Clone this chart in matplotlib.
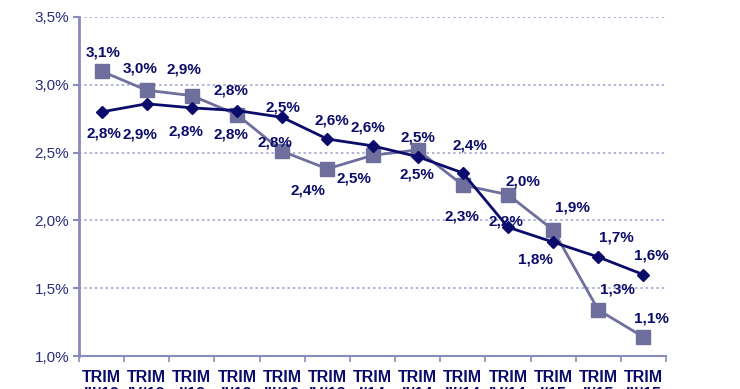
import numpy as np
import matplotlib.pyplot as plt
from matplotlib.ticker import FixedLocator, FuncFormatter

plt.rcParams['font.family'] = ['Liberation Sans', 'DejaVu Sans']

# Quarter labels (second line is cut off in the reference)
quarters = ['TRIM\nIII/12', 'TRIM\nIV/12', 'TRIM\nI/13', 'TRIM\nII/13', 'TRIM\nIII/13',
            'TRIM\nIV/13', 'TRIM\nI/14', 'TRIM\nII/14', 'TRIM\nIII/14', 'TRIM\nIV/14',
            'TRIM\nI/15', 'TRIM\nII/15', 'TRIM\nIII/15']

# Series values (%)
diamond_vals = [2.80, 2.86, 2.83, 2.81, 2.76, 2.60, 2.55, 2.47, 2.35, 1.95, 1.84, 1.73, 1.60]
square_vals = [3.10, 2.96, 2.92, 2.78, 2.51, 2.38, 2.48, 2.52, 2.26, 2.19, 1.93, 1.34, 1.14]

# Data labels as printed on the chart
diamond_labels = ['2,8%', '2,9%', '2,8%', '2,8%', '2,5%', '2,6%', '2,6%',
                  '2,5%', '2,4%', '2,2%', '1,8%', '1,7%', '1,6%']
square_labels = ['3,1%', '3,0%', '2,9%', '2,8%', '2,8%', '2,4%', '2,5%',
                 '2,5%', '2,3%', '2,0%', '1,9%', '1,3%', '1,1%']

# label offsets in pixels (dx, dy up positive)
diamond_off = [(2, -22), (-7, -31), (-6, -24), (-6, -24), (1, 10), (5, 19), (-5, 18),
               (-1, -18), (7, 27), (-2, 6), (-18, -17), (18, 20), (8, 19)]
square_off = [(2, 19), (-7, 22), (-8, 26), (-6, 24), (-7, 9), (-19, -22), (-19, -23),
              (0, 12), (-1, -31), (15, 13), (19, 22), (19, 20), (8, 19)]

navy = '#0b0b6b'
grey_purple = '#6f6f9e'
axis_col = '#8a8abb'
text_col = '#2b2b7a'

fig = plt.figure(figsize=(7.4, 3.89), dpi=100)
ax = fig.add_axes([79 / 740, 33 / 389, 587 / 740, 339 / 389])

x = np.arange(len(quarters))

ax.plot(x, square_vals, color=grey_purple, lw=2, marker='s', markersize=9.5,
        markerfacecolor=grey_purple, markeredgecolor=grey_purple, zorder=3)
ax.plot(x, diamond_vals, color=navy, lw=2, marker='D', markersize=6.5,
        markerfacecolor=navy, markeredgecolor=navy, zorder=4)

for xi, v, lab, (dx, dy) in zip(x, diamond_vals, diamond_labels, diamond_off):
    ax.annotate(lab, (xi, v), xytext=(dx, dy), textcoords='offset pixels',
                ha='center', va='center', fontsize=11, fontweight='bold', color=navy, zorder=5)
for xi, v, lab, (dx, dy) in zip(x, square_vals, square_labels, square_off):
    ax.annotate(lab, (xi, v), xytext=(dx, dy), textcoords='offset pixels',
                ha='center', va='center', fontsize=11, fontweight='bold', color=navy, zorder=5)

ax.set_xlim(-0.5, len(quarters) - 0.5)
ax.set_ylim(1.0, 3.5)

# y axis
ax.set_yticks([1.0, 1.5, 2.0, 2.5, 3.0, 3.5])
ax.yaxis.set_major_formatter(FuncFormatter(lambda v, p: f'{v:.1f}%'.replace('.', ',')))
ax.tick_params(axis='y', colors=axis_col, labelcolor=text_col, labelsize=11, length=4, width=1.5, pad=3)
ax.grid(axis='y', color='#9a9acc', linestyle=(0, (1.5, 2)), linewidth=1.1)

# x axis: tick marks on category boundaries, labels on centers
ax.xaxis.set_major_locator(FixedLocator(x))
ax.set_xticklabels(quarters, fontweight='bold', fontsize=11.5, color=navy, linespacing=1.2, va='top')
ax.xaxis.set_minor_locator(FixedLocator(np.arange(-0.5, len(quarters), 1.0)))
ax.tick_params(axis='x', which='major', length=0, pad=10)
ax.tick_params(axis='x', which='minor', length=4, width=1.2, color=axis_col)

for s in ['top', 'right']:
    ax.spines[s].set_visible(False)
ax.spines['left'].set_color(axis_col)
ax.spines['left'].set_linewidth(2)
ax.spines['bottom'].set_color(axis_col)
ax.spines['bottom'].set_linewidth(1.5)

fig.savefig('out.png', dpi=100)
